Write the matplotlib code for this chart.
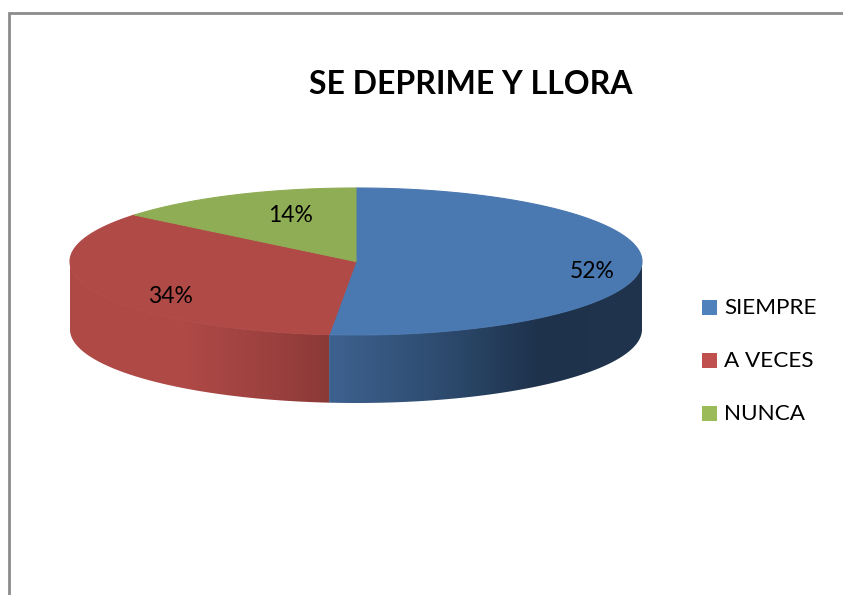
import numpy as np
import matplotlib
matplotlib.use("Agg")
import matplotlib.pyplot as plt
from matplotlib.colors import LinearSegmentedColormap
from matplotlib.patches import Polygon, Rectangle

# datos
categorias = ["SIEMPRE", "A VECES", "NUNCA"]
valores = [51.5, 34.4, 14.1]
etiquetas = ["52%", "34%", "14%"]

colores_top = ["#4A78B0", "#B04A47", "#8FAD55"]
colores_leyenda = ["#4F81BD", "#C0504D", "#9BBB59"]

plt.rcParams["font.family"] = ["Lato", "DejaVu Sans"]

W, H = 843, 595
fig = plt.figure(figsize=(W / 100, H / 100), dpi=100)
ax = fig.add_axes([0, 0, 1, 1])
ax.set_xlim(0, W)
ax.set_ylim(H, 0)
ax.axis("off")

# marco del grafico
ax.plot([9, 9, W], [H, 12.5, 12.5], color="#8C8C8C", lw=2.0, solid_joinstyle="miter")

# geometria del disco
cx, cy = 356, 261.5
rx, ry = 286, 73.5
prof = 68


def borde(a):
    # angulo en grados desde arriba, sentido horario
    a = np.radians(a)
    return cx + rx * np.sin(a), cy - ry * np.cos(a)


def pared(a0, a1, stops):
    # stops van de izquierda a derecha
    ang = np.linspace(a0, a1, 150)
    x, y = borde(ang)
    pts = np.r_[np.c_[x, y], np.c_[x[::-1], y[::-1] + prof]]
    cmap = LinearSegmentedColormap.from_list("g", stops)
    grad = np.linspace(0, 1, 256).reshape(1, -1)
    im = ax.imshow(grad, cmap=cmap, aspect="auto", zorder=2,
                   extent=[x.min(), x.max(), y.max() + prof + 1, y.min() - 1])
    im.set_clip_path(Polygon(pts, closed=True, transform=ax.transData))


acum = np.cumsum([0] + valores) / sum(valores) * 360

# paredes frontales
pared(90, acum[1], [(0, "#3D618F"), (0.35, "#2E4C70"), (0.67, "#1E324C"), (1, "#20344E")])
pared(acum[1], 270, [(0, "#B04A47"), (0.45, "#AE4946"), (0.8, "#9A403E"), (1, "#8A3937")])
ax.set_xlim(0, W)
ax.set_ylim(H, 0)

# cara superior
for i in range(len(valores)):
    ang = np.linspace(acum[i], acum[i + 1], 200)
    x, y = borde(ang)
    pts = np.r_[[[cx, cy]], np.c_[x, y]]
    ax.add_patch(Polygon(pts, closed=True, fc=colores_top[i], ec=colores_top[i], lw=0.8, zorder=3))

# etiquetas de porcentaje
pos_etiquetas = [(592, 272), (170, 296.5), (291, 215.5)]
for (px, py), t in zip(pos_etiquetas, etiquetas):
    ax.text(px, py, t, fontsize=16.5, color="black", ha="center", va="center", zorder=4)

# titulo
ax.text(471, 84.5, "SE DEPRIME Y LLORA", fontsize=23, fontweight="bold",
        color="black", ha="center", va="center")

# leyenda
ley_y = [307, 360, 413]
for nombre, color, y in zip(categorias, colores_leyenda, ley_y):
    ax.add_patch(Rectangle((702, y - 7.5), 15, 15, fc=color, ec="none"))
    ax.text(724, y + 1, nombre, fontsize=16.2, color="black", ha="left", va="center")

fig.savefig("out.png", dpi=100)
